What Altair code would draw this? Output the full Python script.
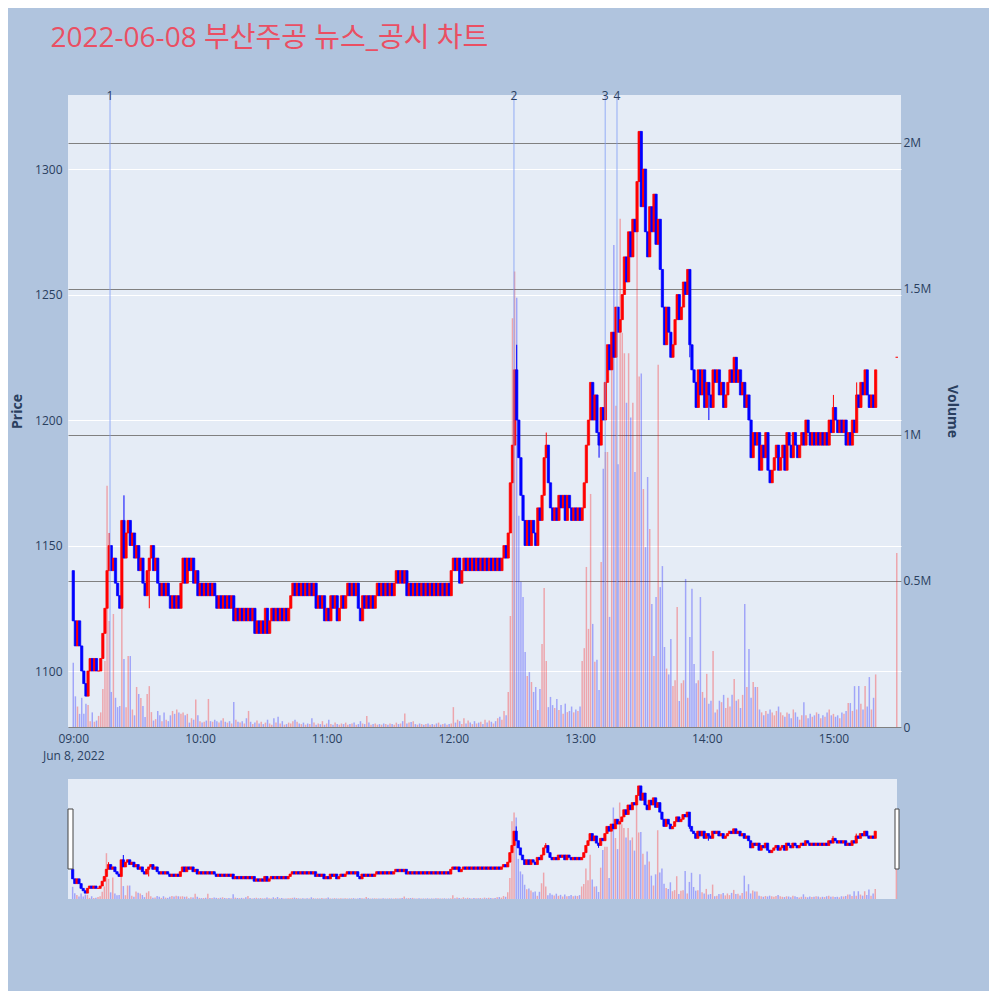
import altair as alt
import pandas as pd

TITLE = "2022-06-08 부산주공 뉴스_공시 차트"

# 1-minute candles 09:00 .. 15:20, closing prices (KRW); each candle opens at the previous close
first_open = 1140
close = [
    1120, 1110, 1120, 1110, 1100, 1095, 1090, 1100, 1105, 1100,
    1105, 1100, 1100, 1105, 1115, 1125, 1140, 1150, 1140, 1145,
    1135, 1130, 1125, 1160, 1145, 1155, 1160, 1150, 1155, 1145,
    1150, 1140, 1145, 1135, 1130, 1140, 1145, 1150, 1140, 1145,
    1135, 1130, 1135, 1130, 1135, 1130, 1125, 1130, 1125, 1130,
    1125, 1135, 1145, 1135, 1145, 1140, 1145, 1135, 1140, 1130,
    1135, 1130, 1135, 1130, 1135, 1130, 1135, 1130, 1125, 1130,
    1125, 1130, 1125, 1130, 1125, 1130, 1120, 1125, 1120, 1125,
    1120, 1125, 1120, 1125, 1120, 1125, 1115, 1120, 1115, 1120,
    1115, 1125, 1115, 1120, 1125, 1120, 1125, 1120, 1125, 1120,
    1125, 1120, 1125, 1130, 1135, 1130, 1135, 1130, 1135, 1130,
    1135, 1130, 1135, 1130, 1135, 1125, 1130, 1125, 1130, 1120,
    1125, 1120, 1130, 1125, 1130, 1120, 1125, 1130, 1125, 1130,
    1135, 1130, 1135, 1130, 1135, 1125, 1120, 1130, 1125, 1130,
    1125, 1130, 1125, 1130, 1135, 1130, 1135, 1130, 1135, 1130,
    1135, 1130, 1135, 1140, 1135, 1140, 1135, 1140, 1130, 1135,
    1130, 1135, 1130, 1135, 1130, 1135, 1130, 1135, 1130, 1135,
    1130, 1135, 1130, 1135, 1130, 1135, 1130, 1135, 1130, 1140,
    1145, 1140, 1145, 1135, 1140, 1145, 1140, 1145, 1140, 1145,
    1140, 1145, 1140, 1145, 1140, 1145, 1140, 1145, 1140, 1145,
    1140, 1145, 1140, 1145, 1150, 1145, 1155, 1175, 1190, 1220,
    1200, 1185, 1170, 1160, 1150, 1160, 1150, 1160, 1155, 1150,
    1165, 1160, 1170, 1185, 1190, 1175, 1165, 1160, 1165, 1160,
    1170, 1165, 1170, 1160, 1170, 1165, 1160, 1165, 1160, 1165,
    1160, 1165, 1175, 1190, 1200, 1215, 1200, 1210, 1195, 1190,
    1205, 1200, 1215, 1230, 1220, 1235, 1225, 1245, 1235, 1240,
    1250, 1265, 1255, 1275, 1265, 1280, 1275, 1295, 1315, 1285,
    1300, 1275, 1265, 1285, 1275, 1290, 1270, 1280, 1260, 1245,
    1230, 1245, 1235, 1225, 1230, 1240, 1250, 1240, 1245, 1255,
    1250, 1260, 1230, 1220, 1215, 1205, 1220, 1210, 1220, 1205,
    1215, 1210, 1205, 1220, 1215, 1220, 1210, 1215, 1205, 1210,
    1215, 1220, 1215, 1225, 1215, 1220, 1210, 1215, 1205, 1210,
    1200, 1185, 1195, 1190, 1195, 1180, 1190, 1185, 1195, 1180,
    1175, 1180, 1185, 1190, 1180, 1185, 1190, 1180, 1195, 1190,
    1185, 1195, 1190, 1185, 1190, 1195, 1190, 1200, 1195, 1190,
    1195, 1190, 1195, 1190, 1195, 1190, 1195, 1190, 1200, 1195,
    1205, 1200, 1195, 1200, 1195, 1200, 1190, 1195, 1190, 1200,
    1195, 1210, 1205, 1215, 1210, 1220, 1210, 1205, 1210, 1205,
    1220,
]

# traded volume per minute, thousands of shares
volume_k = [
    220, 105, 70, 45, 100, 45, 80, 75, 20, 50,
    18, 22, 38, 50, 130, 226, 826, 363, 120, 387,
    100, 68, 72, 414, 233, 68, 243, 243, 60, 40,
    137, 113, 99, 72, 34, 113, 140, 51, 22, 27,
    55, 40, 20, 50, 25, 20, 40, 55, 45, 60,
    50, 45, 50, 40, 45, 15, 30, 25, 94, 40,
    20, 15, 18, 22, 96, 20, 18, 25, 20, 15,
    22, 30, 18, 15, 20, 12, 86, 25, 18, 15,
    20, 12, 30, 55, 18, 10, 15, 22, 12, 18,
    10, 15, 25, 12, 8, 30, 15, 35, 12, 20,
    8, 10, 15, 12, 20, 25, 18, 12, 10, 15,
    8, 12, 10, 30, 15, 8, 12, 10, 20, 8,
    12, 25, 10, 8, 15, 10, 8, 12, 10, 15,
    8, 10, 12, 15, 8, 10, 20, 12, 10, 38,
    15, 8, 10, 12, 8, 10, 8, 12, 10, 8,
    12, 10, 8, 15, 10, 12, 20, 46, 12, 15,
    17, 20, 10, 8, 12, 10, 8, 10, 12, 8,
    10, 8, 12, 15, 8, 10, 12, 8, 10, 12,
    68, 15, 25, 20, 10, 30, 12, 22, 15, 10,
    20, 12, 15, 18, 10, 25, 15, 22, 18, 12,
    20, 30, 35, 25, 55, 40, 120, 380, 1400, 1560,
    1470, 723, 497, 445, 257, 175, 188, 154, 120, 137,
    58, 130, 284, 476, 226, 68, 103, 75, 65, 96,
    58, 75, 45, 80, 51, 55, 70, 50, 60, 55,
    70, 226, 270, 548, 336, 798, 353, 223, 230, 127,
    565, 884, 942, 942, 377, 1300, 1650, 1100, 900, 1740,
    1350, 1280, 1110, 1280, 1060, 1110, 873, 1740, 1200, 1210,
    815, 616, 856, 678, 421, 243, 445, 1240, 479, 551,
    274, 200, 180, 301, 140, 160, 411, 89, 150, 160,
    507, 100, 308, 473, 216, 150, 160, 445, 120, 100,
    182, 80, 90, 260, 50, 60, 90, 85, 110, 65,
    100, 70, 110, 164, 90, 95, 65, 110, 421, 137,
    267, 100, 154, 137, 137, 60, 50, 40, 55, 45,
    60, 50, 40, 55, 70, 50, 40, 35, 50, 45,
    30, 60, 50, 35, 25, 40, 85, 40, 30, 45,
    35, 40, 50, 45, 30, 40, 35, 50, 60, 40,
    45, 35, 40, 30, 50, 45, 55, 82, 82, 55,
    140, 60, 140, 80, 60, 140, 70, 171, 60, 100,
    180,
]

# wick extremes that go beyond the candle body (minute -> price)
wick_high = {17: 1155, 24: 1170, 210: 1230, 224: 1195, 268: 1315, 291: 1260,
             313: 1225, 360: 1210, 371: 1215}
wick_low = {6: 1090, 36: 1125, 79: 1120, 249: 1185, 292: 1225, 301: 1200, 330: 1175}

# closing single-price auction (15:30)
auction_minute = 390
auction_price = 1225
auction_volume_k = 596

# news / disclosure markers (minutes after 09:00)
news_minute = [17.4, 208.7, 251.9, 257.5]
news_label = ["1", "2", "3", "4"]

rows = []
prev = first_open
for m, (c, v) in enumerate(zip(close, volume_k)):
    o = prev
    rows.append(dict(minute=m, open=o, close=c,
                     high=max(o, c, wick_high.get(m, c)),
                     low=min(o, c, wick_low.get(m, c)),
                     volume=v * 1000))
    prev = c
rows.append(dict(minute=auction_minute, open=auction_price, close=auction_price,
                 high=auction_price, low=auction_price, volume=auction_volume_k * 1000))
df = pd.DataFrame(rows)
df["dir"] = ["up" if c >= o else "down" for o, c in zip(df["open"], df["close"])]

news = pd.DataFrame({"minute": news_minute, "label": news_label})

FONT = "Open Sans, Noto Sans CJK KR, sans-serif"
INK = "#2a3f5f"
color = alt.Color("dir:N", scale=alt.Scale(domain=["up", "down"], range=["#ff0000", "#0000ff"]),
                  legend=None)
stroke = alt.Stroke("dir:N", scale=alt.Scale(domain=["up", "down"], range=["#ff0000", "#0000ff"]),
                    legend=None)
X_LABELS = "datum.value == 0 ? ['09:00', 'Jun 8, 2022'] : (9 + datum.value / 60) + ':00'"
VOL_LABELS = "datum.value == 0 ? '0' : format(datum.value / 1000000, '.1~f') + 'M'"


def panel(width, height, x_domain, axes):
    xs = alt.Scale(domain=x_domain, nice=False, zero=False)
    x_axis = alt.Axis(values=list(range(0, 361, 60)), labelExpr=X_LABELS, grid=False,
                      domain=False, ticks=False, labelPadding=6, labelLineHeight=17,
                      title=None) if axes else None
    price_axis = alt.Axis(orient="left", values=[1100, 1150, 1200, 1250, 1300], format="d",
                          title="Price", grid=True, gridColor="white", gridWidth=1,
                          domain=False, ticks=False, labelPadding=6,
                          titlePadding=10) if axes else None
    vol_axis = alt.Axis(orient="right", values=[0, 500000, 1000000, 1500000, 2000000],
                        labelExpr=VOL_LABELS, title="Volume", grid=True, gridColor="#808080",
                        domain=False, ticks=False, labelPadding=2, titlePadding=14) if axes else None
    price_scale = alt.Scale(domain=[1077.7, 1329.5], nice=False, zero=False)
    vol_scale = alt.Scale(domain=[0, 2164000], nice=False)

    base = alt.Chart(df).transform_calculate(
        c0="datum.minute - 0.55", c1="datum.minute + 0.55",
        v0="datum.minute - 0.35", v1="datum.minute + 0.35",
    )
    vol = base.mark_rect(opacity=0.3).encode(
        x=alt.X("v0:Q", scale=xs, axis=x_axis), x2="v1:Q",
        y=alt.Y("volume:Q", scale=vol_scale, axis=vol_axis), y2=alt.datum(0),
        color=color,
    )
    bodies = base.mark_rect(strokeWidth=0.7).encode(
        x=alt.X("c0:Q", scale=xs, axis=x_axis), x2="c1:Q",
        y=alt.Y("open:Q", scale=price_scale, axis=price_axis), y2="close:Q",
        color=color, stroke=stroke,
    )
    wicks = base.mark_rule(strokeWidth=1).encode(
        x=alt.X("minute:Q", scale=xs, axis=x_axis),
        y=alt.Y("low:Q", scale=price_scale, axis=price_axis), y2="high:Q",
        color=color,
    )
    price = alt.layer(bodies, wicks)
    layers = [vol, price]
    if axes:
        rules = alt.Chart(news).mark_rule(color="#7f9cf5", strokeWidth=1, opacity=0.8).encode(
            x=alt.X("minute:Q", scale=xs, axis=x_axis))
        marks = alt.Chart(news).mark_text(fontSize=12, color=INK, baseline="middle",
                                          font=FONT).encode(
            x=alt.X("minute:Q", scale=xs, axis=x_axis), y=alt.value(1), text="label:N")
        layers += [rules, marks]
    else:
        handle = alt.Chart(pd.DataFrame({"h": [0]}))
        left = handle.mark_rect(fill="white", stroke="#444444", strokeWidth=1).encode(
            x=alt.value(0), x2=alt.value(5), y=alt.value(30), y2=alt.value(90))
        right = handle.mark_rect(fill="white", stroke="#444444", strokeWidth=1).encode(
            x=alt.value(width - 2), x2=alt.value(width + 2), y=alt.value(30), y2=alt.value(90))
        layers += [left, right]
    return alt.layer(*layers).resolve_scale(y="independent").properties(width=width, height=height)


main = panel(833, 632, [-2.5, 392], True)
mini = panel(829, 120, [-2.2, 390.3], False)

chart = alt.vconcat(main, mini, spacing=52, bounds="flush").properties(
    title=alt.TitleParams(TITLE, anchor="start", fontSize=28, color="#ea4f63", font=FONT,
                          fontWeight="normal", offset=37, dx=40),
    padding={"left": 2, "top": 17, "right": 30, "bottom": 92},
).configure(
    background="#b0c4de", font=FONT,
).configure_view(
    fill="#e5ecf6", stroke=None,
).configure_axis(
    labelColor=INK, labelFontSize=12, labelFont=FONT,
    titleColor=INK, titleFontSize=14, titleFontWeight="bold", titleFont=FONT,
)

chart.save("out.html", embed_options={"renderer": "svg", "actions": False})
